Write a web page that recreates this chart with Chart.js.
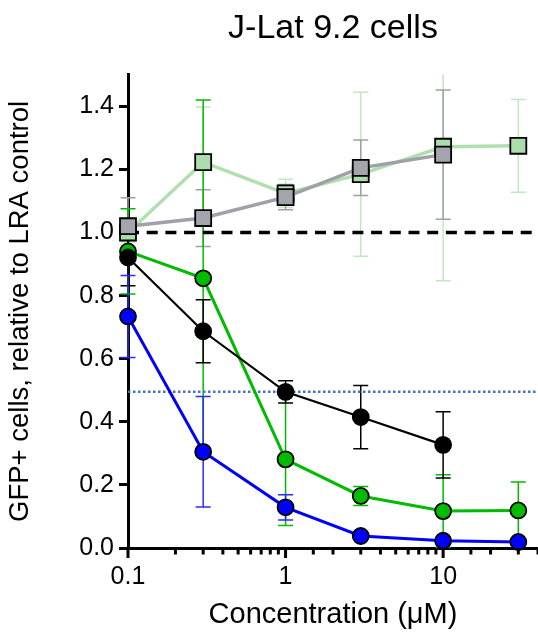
<!DOCTYPE html>
<html>
<head>
<meta charset="utf-8">
<script src="https://cdn.jsdelivr.net/npm/chart.js@4.4.1/dist/chart.umd.min.js"></script>
<style>
  html, body { margin: 0; padding: 0; background: #fff; }
  #wrap { width: 538px; height: 638px; }
</style>
</head>
<body>
<div id="wrap"><canvas id="lraChart"></canvas></div>
<script>
// concentrations (uM)
const concentrations = [0.1, 0.3, 1, 3, 10, 30];

// means and error (SD) for each compound
const blueMean = [0.734, 0.305, 0.129, 0.038, 0.023, 0.019];
const blueErr = [0.13, 0.175, 0.04, 0.01, 0.006, 0.005];
const blackMean = [0.921, 0.687, 0.495, 0.415, 0.327, null];
const blackErr = [0.09, 0.10, 0.035, 0.10, 0.105, null];
const greenMean = [0.94, 0.855, 0.281, 0.165, 0.117, 0.119];
const greenErr = [0.135, 0.565, 0.21, 0.03, 0.115, 0.09];
const grayMean = [1.02, 1.046, 1.112, 1.205, 1.247, null];
const grayErr = [0.09, 0.09, 0.04, 0.088, 0.205, null];
const lightGreenMean = [1.0, 1.223, 1.124, 1.185, 1.272, 1.275];
const lightGreenErr = [0.03, 0.175, 0.045, 0.26, 0.425, 0.147];

// reference levels
const controlLevel = 1.0;
const halfLevel = 0.495;
const xRange = [0.1, 40];

const yTicks = [0, 0.2, 0.4, 0.6, 0.8, 1.0, 1.2, 1.4];

const FONT = "'Liberation Sans', Arial, sans-serif";

const toPoints = (ys) => concentrations.map((x, i) => ({ x: x, y: ys[i] })).filter(p => p.y !== null);

const series = [
  { mean: blueMean, err: blueErr, line: '#0000ff', fill: '#0000ff', bar: '#2a2aff', style: 'circle', lw: 3 },
  { mean: blackMean, err: blackErr, line: '#000000', fill: '#000000', bar: '#000000', style: 'circle', lw: 2.2 },
  { mean: greenMean, err: greenErr, line: '#00bb00', fill: '#00bb00', bar: '#00bb00', style: 'circle', lw: 3 },
  { mean: grayMean, err: grayErr, line: '#a0a0a8', fill: '#a4a4ac', bar: '#a0a0a0', style: 'rect', lw: 3.5 },
  { mean: lightGreenMean, err: lightGreenErr, line: '#b0dfb0', fill: '#acdcac', bar: '#c2e8c2', style: 'rect', lw: 3.5 }
];

const datasets = series.map(s => ({
  data: toPoints(s.mean),
  borderColor: s.line,
  borderWidth: s.lw,
  backgroundColor: s.fill,
  pointStyle: s.style,
  pointRadius: s.style === 'rect' ? 11.3 : 8,
  pointBorderColor: '#000',
  pointBorderWidth: 1.8,
  pointHoverRadius: 0,
  tension: 0,
  clip: false
}));

datasets.push({
  data: xRange.map(x => ({ x: x, y: controlLevel })),
  borderColor: '#000',
  borderWidth: 3.5,
  borderDash: [11, 7.7],
  pointRadius: 0
});
datasets.push({
  data: xRange.map(x => ({ x: x, y: halfLevel })),
  borderColor: '#4472c4',
  borderWidth: 2.5,
  borderDash: [2.5, 2.5],
  pointRadius: 0
});

// error bars under the marks
const errorBars = {
  id: 'errorBars',
  beforeDatasetsDraw(chart) {
    const { ctx, chartArea, scales: { x, y } } = chart;
    ctx.save();
    ctx.beginPath();
    ctx.rect(chartArea.left - 20, chartArea.top, chartArea.right - chartArea.left + 40, chartArea.bottom - chartArea.top + 20);
    ctx.clip();
    series.slice().reverse().forEach(s => {
      ctx.strokeStyle = s.bar;
      ctx.lineWidth = 1.5;
      concentrations.forEach((c, i) => {
        if (s.mean[i] === null) return;
        const px = x.getPixelForValue(c);
        const top = y.getPixelForValue(s.mean[i] + s.err[i]);
        const bot = y.getPixelForValue(s.mean[i] - s.err[i]);
        ctx.beginPath();
        ctx.moveTo(px, top); ctx.lineTo(px, bot);
        ctx.moveTo(px - 7.5, top); ctx.lineTo(px + 7.5, top);
        ctx.moveTo(px - 7.5, bot); ctx.lineTo(px + 7.5, bot);
        ctx.stroke();
      });
    });
    ctx.restore();
  }
};

// log axis tick marks, long at decades
const logTicks = {
  id: 'logTicks',
  afterDraw(chart) {
    const { ctx, scales: { x } } = chart;
    ctx.save();
    ctx.strokeStyle = '#000';
    ctx.lineWidth = 3;
    x.ticks.forEach(t => {
      const lg = Math.log10(t.value);
      const major = Math.abs(lg - Math.round(lg)) < 1e-6;
      const px = x.getPixelForValue(t.value);
      ctx.beginPath();
      ctx.moveTo(px, x.top);
      ctx.lineTo(px, x.top + (major ? 10 : 6.5));
      ctx.stroke();
    });
    ctx.restore();
  }
};

new Chart(document.getElementById('lraChart'), {
  type: 'line',
  data: { datasets: datasets },
  options: {
    responsive: true,
    maintainAspectRatio: false,
    animation: false,
    layout: { padding: 0, autoPadding: false },
    plugins: {
      legend: { display: false },
      tooltip: { enabled: false },
      title: {
        display: true,
        text: 'J-Lat 9.2 cells',
        fullSize: false,
        color: '#000',
        font: { family: FONT, size: 34, weight: 'normal' },
        padding: { top: 8, bottom: 26 }
      }
    },
    scales: {
      x: {
        type: 'logarithmic',
        min: xRange[0],
        max: xRange[1],
        border: { display: true, color: '#000', width: 3 },
        grid: { drawOnChartArea: false, color: 'rgba(0,0,0,0)', tickLength: 11 },
        ticks: {
          autoSkip: false,
          maxRotation: 0,
          padding: 3,
          color: '#000',
          font: { family: FONT, size: 25 },
          callback: (v) => {
            const lg = Math.log10(v);
            return Math.abs(lg - Math.round(lg)) < 1e-6 ? String(v) : '';
          }
        },
        title: {
          display: true,
          text: 'Concentration (μM)',
          color: '#000',
          font: { family: FONT, size: 29 },
          padding: { top: 0, bottom: 6 }
        },
        afterFit: (s) => { s.height = 90; s.paddingRight = 0; s.paddingLeft = 0; }
      },
      y: {
        min: 0,
        max: 1.5,
        afterBuildTicks: (s) => { s.ticks = yTicks.map(v => ({ value: v })); },
        border: { display: true, color: '#000', width: 3 },
        grid: { drawOnChartArea: false, color: '#000', lineWidth: 3, tickLength: 9 },
        ticks: {
          padding: 5,
          color: '#000',
          font: { family: FONT, size: 25 },
          callback: (v) => v.toFixed(1)
        },
        title: {
          display: true,
          text: 'GFP+ cells, relative to LRA control',
          color: '#000',
          font: { family: FONT, size: 27.5 },
          padding: { top: 4, bottom: 0 }
        },
        afterFit: (s) => { s.width = 128; }
      }
    }
  },
  plugins: [errorBars, logTicks]
});
</script>
</body>
</html>
